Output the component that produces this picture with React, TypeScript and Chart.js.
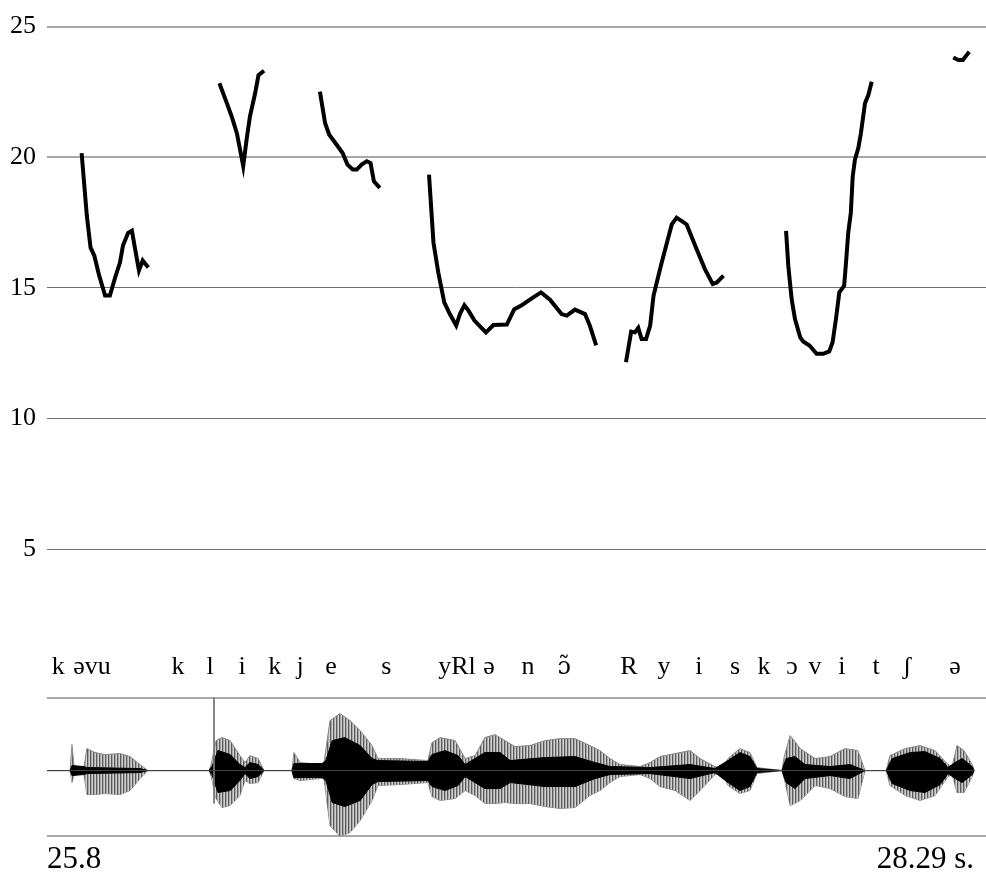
import React, { useEffect, useRef } from "react";
import { Chart, registerables } from "chart.js";

Chart.register(...registerables);

// ---------- DATA ----------
const TIME_START = 25.8;
const TIME_END = 28.29;
const TIME_VIEW_MAX = 28.322;
const timeTicks = [25.8, 28.29];
const timeTickLabels = ["25.8", "28.29 s."];

const pitchTicks = [5, 10, 15, 20, 25];

// pitch contour segments (time s, value)
const seg1Times = [25.893, 25.907, 25.917, 25.927, 25.94, 25.956, 25.969, 25.983, 25.996, 26.004, 26.018, 26.028, 26.036, 26.047, 26.057, 26.072];
const seg1Values = [20.16, 17.76, 16.54, 16.24, 15.48, 14.71, 14.71, 15.4, 15.97, 16.62, 17.11, 17.19, 16.54, 15.67, 16.05, 15.78];

const seg2Times = [26.263, 26.283, 26.296, 26.31, 26.327, 26.336, 26.345, 26.359, 26.368, 26.383];
const seg2Values = [22.83, 22.07, 21.56, 20.92, 19.66, 20.67, 21.56, 22.45, 23.14, 23.31];

const seg3Times = [26.533, 26.547, 26.558, 26.578, 26.594, 26.607, 26.621, 26.632, 26.645, 26.659, 26.669, 26.678, 26.694];
const seg3Values = [22.51, 21.3, 20.86, 20.48, 20.16, 19.72, 19.53, 19.53, 19.72, 19.85, 19.78, 19.08, 18.83];

const seg4Times = [26.826, 26.838, 26.851, 26.867, 26.882, 26.899, 26.909, 26.921, 26.932, 26.948, 26.963, 26.979, 26.999, 27.035, 27.055, 27.075, 27.106, 27.127, 27.151, 27.182, 27.196, 27.218, 27.245, 27.258, 27.275];
const seg4Values = [19.34, 16.73, 15.59, 14.45, 14.0, 13.56, 14.0, 14.34, 14.13, 13.75, 13.53, 13.3, 13.58, 13.6, 14.19, 14.34, 14.64, 14.83, 14.55, 14.0, 13.94, 14.17, 14.0, 13.56, 12.8];

const seg5Times = [27.355, 27.369, 27.379, 27.388, 27.397, 27.409, 27.42, 27.429, 27.44, 27.451, 27.465, 27.478, 27.491, 27.505, 27.518, 27.541, 27.567, 27.588, 27.599, 27.617];
const seg5Values = [12.16, 13.33, 13.3, 13.47, 13.05, 13.05, 13.56, 14.7, 15.34, 15.97, 16.73, 17.43, 17.69, 17.56, 17.43, 16.61, 15.72, 15.15, 15.21, 15.47];

const seg6Times = [27.785, 27.791, 27.8, 27.809, 27.823, 27.831, 27.848, 27.867, 27.885, 27.901, 27.91, 27.919, 27.928, 27.941, 27.946, 27.952, 27.959, 27.964, 27.97, 27.979, 27.986, 27.997, 28.006, 28.015];
const seg6Values = [17.18, 15.85, 14.57, 13.81, 13.11, 12.95, 12.8, 12.48, 12.48, 12.57, 12.92, 13.81, 14.83, 15.08, 15.97, 17.11, 17.88, 19.27, 19.91, 20.35, 20.92, 22.07, 22.38, 22.89];

const seg7Times = [28.234, 28.248, 28.26, 28.27, 28.277];
const seg7Values = [23.82, 23.72, 23.72, 23.91, 24.04];

// phonetic transcription
const phonemeLabels = ["k", "əvu", "k", "l", "i", "k", "j", "e", "s", "yRl", "ə", "n", "ɔ̃", "R", "y", "i", "s", "k", "ɔ", "v", "i", "t", "ʃ", "ə"];
const phonemeTimes = [25.83, 25.921, 26.152, 26.238, 26.324, 26.412, 26.48, 26.563, 26.711, 26.901, 26.987, 27.092, 27.189, 27.363, 27.457, 27.551, 27.648, 27.726, 27.801, 27.863, 27.935, 28.027, 28.11, 28.239];

// waveform envelope (amplitude, arbitrary units)
const waveMin = -66;
const waveMax = 73;
const waveOuterTimes = [25.8, 25.862, 25.867, 25.873, 25.899, 25.907, 25.929, 25.956, 25.996, 26.023, 26.05, 26.071, 26.235, 26.241, 26.254, 26.27, 26.292, 26.318, 26.332, 26.345, 26.367, 26.383, 26.458, 26.463, 26.48, 26.533, 26.544, 26.56, 26.587, 26.614, 26.641, 26.673, 26.689, 26.748, 26.823, 26.834, 26.856, 26.896, 26.923, 26.95, 26.976, 27.003, 27.03, 27.057, 27.097, 27.138, 27.178, 27.218, 27.258, 27.285, 27.312, 27.339, 27.393, 27.42, 27.446, 27.487, 27.527, 27.554, 27.594, 27.613, 27.629, 27.661, 27.688, 27.707, 27.774, 27.78, 27.796, 27.823, 27.863, 27.903, 27.943, 27.978, 27.997, 28.054, 28.064, 28.105, 28.145, 28.185, 28.22, 28.231, 28.244, 28.263, 28.285, 28.29];
const waveOuterUpper = [0, 0, 26, 3, 3, 22, 18, 16, 17, 14, 6, 0, 0, 6, 30, 33, 30, 15, 8, 15, 12, 0, 0, 18, 8, 6, 8, 50, 57, 50, 40, 25, 12, 12, 10, 28, 33, 30, 12, 15, 33, 36, 30, 24, 25, 30, 32, 32, 25, 20, 12, 6, 4, 8, 14, 17, 20, 12, 4, 2, 12, 22, 18, 3, 0, 14, 35, 22, 12, 14, 22, 20, 0, 0, 15, 22, 25, 20, 6, 4, 25, 20, 6, 0];
const waveOuterLower = [0, 0, -12, -4, -3, -24, -24, -23, -24, -20, -8, 0, 0, -6, -28, -37, -35, -25, -10, -13, -12, 0, 0, -8, -10, -8, -8, -55, -66, -62, -50, -30, -15, -14, -12, -26, -30, -28, -20, -25, -33, -33, -32, -33, -33, -36, -38, -37, -25, -20, -12, -6, -4, -8, -16, -20, -30, -20, -4, -2, -15, -23, -20, -3, 0, -8, -35, -30, -15, -18, -26, -28, 0, 0, -15, -25, -30, -25, -6, -4, -22, -22, -6, 0];

const waveCoreTimes = [25.8, 25.862, 25.867, 25.899, 25.907, 26.05, 26.071, 26.235, 26.243, 26.259, 26.292, 26.318, 26.332, 26.345, 26.367, 26.383, 26.458, 26.463, 26.539, 26.549, 26.566, 26.6, 26.641, 26.673, 26.689, 26.823, 26.834, 26.869, 26.904, 26.923, 26.976, 27.017, 27.044, 27.138, 27.218, 27.272, 27.312, 27.42, 27.527, 27.594, 27.629, 27.661, 27.688, 27.707, 27.774, 27.785, 27.809, 27.836, 27.903, 27.957, 27.997, 28.054, 28.07, 28.118, 28.158, 28.199, 28.22, 28.239, 28.258, 28.285, 28.29];
const waveCoreUpper = [0, 0, 5, 4, 3, 2, 0, 0, 4, 20, 16, 6, 3, 8, 6, 0, 0, 7, 7, 10, 30, 33, 25, 12, 10, 9, 16, 20, 15, 6, 18, 18, 10, 13, 14, 8, 4, 3, 6, 2, 10, 18, 14, 2, 0, 12, 14, 6, 4, 6, 0, 0, 12, 18, 19, 12, 3, 8, 12, 4, 0];
const waveCoreLower = [0, 0, -5, -4, -3, -2, 0, 0, -4, -22, -20, -10, -3, -8, -6, 0, 0, -7, -7, -10, -32, -36, -30, -14, -11, -10, -16, -20, -15, -6, -18, -18, -12, -16, -16, -8, -4, -3, -8, -2, -12, -20, -16, -2, 0, -12, -18, -8, -5, -8, 0, 0, -13, -20, -22, -14, -3, -8, -12, -4, 0];

const clickTime = 26.2486;
const clickRange = [73, -33];

// ---------- CHART ----------
const SERIF = '"Liberation Serif", "Times New Roman", "DejaVu Serif", serif';
const MARK_SERIF = '"DejaVu Serif", "Liberation Serif", serif';

function pts(times: number[], values: number[]) {
  return times.map((t, i) => ({ x: t, y: values[i] }));
}

function makePattern(): CanvasPattern | string {
  const c = document.createElement("canvas");
  c.width = 3;
  c.height = 1;
  const g = c.getContext("2d");
  if (!g) return "#999";
  g.fillStyle = "#5a5a5a";
  g.fillRect(0, 0, 1, 1);
  g.fillStyle = "#a8a8a8";
  g.fillRect(1, 0, 1, 1);
  g.fillStyle = "#cfcfcf";
  g.fillRect(2, 0, 1, 1);
  const p = g.createPattern(c, "repeat");
  return p || "#999";
}

const phonemePlugin = {
  id: "phonemes",
  afterDatasetsDraw(chart: any) {
    const xs = chart.scales.x;
    const ys = chart.scales.y;
    const ctx = chart.ctx;
    ctx.save();
    ctx.textAlign = "center";
    ctx.textBaseline = "alphabetic";
    ctx.fillStyle = "#000";
    phonemeLabels.forEach((p, i) => {
      const hasMark = /[\u0300-\u036f]/.test(p);
      ctx.font = hasMark ? `24px ${MARK_SERIF}` : `26px ${SERIF}`;
      ctx.fillText(p, xs.getPixelForValue(phonemeTimes[i]), ys.bottom - 24);
    });
    ctx.restore();
  },
};

export default function App() {
  const ref = useRef<HTMLCanvasElement | null>(null);

  useEffect(() => {
    if (!ref.current) return;
    const pattern = makePattern();
    const segs = [
      [seg1Times, seg1Values],
      [seg2Times, seg2Values],
      [seg3Times, seg3Values],
      [seg4Times, seg4Values],
      [seg5Times, seg5Values],
      [seg6Times, seg6Values],
      [seg7Times, seg7Values],
    ];
    const datasets: any[] = [];
    segs.forEach(([t, v]) => {
      datasets.push({
        data: pts(t, v),
        yAxisID: "y",
        borderColor: "#000",
        borderWidth: 4,
        pointRadius: 0,
        fill: false,
        tension: 0,
      });
    });
    // centre line
    datasets.push({
      data: [{ x: TIME_START, y: 0 }, { x: TIME_END, y: 0 }],
      yAxisID: "wave",
      borderColor: "#444",
      borderWidth: 1,
      pointRadius: 0,
      fill: false,
    });
    // click line
    datasets.push({
      data: [{ x: clickTime, y: clickRange[0] }, { x: clickTime, y: clickRange[1] }],
      yAxisID: "wave",
      borderColor: "#777",
      borderWidth: 1,
      pointRadius: 0,
      fill: false,
    });
    // core
    const coreIdx = datasets.length;
    datasets.push({
      data: pts(waveCoreTimes, waveCoreUpper),
      yAxisID: "wave",
      borderColor: "#000",
      borderWidth: 1,
      pointRadius: 0,
      backgroundColor: "#000",
      fill: coreIdx + 1,
    });
    datasets.push({
      data: pts(waveCoreTimes, waveCoreLower),
      yAxisID: "wave",
      borderColor: "#000",
      borderWidth: 1,
      pointRadius: 0,
      fill: false,
    });
    const outerIdx = datasets.length;
    datasets.push({
      data: pts(waveOuterTimes, waveOuterUpper),
      yAxisID: "wave",
      borderColor: "#8a8a8a",
      borderWidth: 1,
      pointRadius: 0,
      backgroundColor: pattern,
      fill: outerIdx + 1,
    });
    datasets.push({
      data: pts(waveOuterTimes, waveOuterLower),
      yAxisID: "wave",
      borderColor: "#8a8a8a",
      borderWidth: 1,
      pointRadius: 0,
      fill: false,
    });

    const chart = new Chart(ref.current, {
      type: "line",
      data: { datasets },
      plugins: [phonemePlugin],
      options: {
        animation: false,
        responsive: false,
        events: [],
        layout: { padding: { top: 23, left: 0, right: 0, bottom: 0 } },
        plugins: {
          legend: { display: false },
          tooltip: { enabled: false },
          title: { display: false },
        },
        scales: {
          x: {
            type: "linear",
            min: TIME_START,
            max: TIME_VIEW_MAX,
            grid: { display: false, drawTicks: false },
            border: { display: false },
            afterBuildTicks: (s: any) => {
              s.ticks = timeTicks.map((v) => ({ value: v }));
            },
            afterFit: (s: any) => {
              s.height = 37.5;
            },
            ticks: {
              autoSkip: false,
              maxRotation: 0,
              align: "inner",
              padding: 5,
              color: "#000",
              font: { family: SERIF, size: 31 },
              callback: (v: any) => {
                const i = timeTicks.indexOf(Number(v));
                return i >= 0 ? timeTickLabels[i] : "";
              },
            },
          } as any,
          wave: {
            type: "linear",
            position: "left",
            stack: "main",
            stackWeight: 139.5,
            weight: 0,
            min: waveMin,
            max: waveMax,
            afterBuildTicks: (s: any) => {
              s.ticks = [waveMin, waveMax].map((v) => ({ value: v }));
            },
            afterFit: (s: any) => {
              s.width = 47;
            },
            ticks: { display: false },
            grid: { color: "#a8a8a8", lineWidth: 2, drawTicks: false },
            border: { display: false },
          } as any,
          y: {
            type: "linear",
            position: "left",
            stack: "main",
            stackWeight: 674,
            weight: 1,
            min: -0.676,
            max: 25,
            afterBuildTicks: (s: any) => {
              s.ticks = pitchTicks.map((v) => ({ value: v }));
            },
            afterFit: (s: any) => {
              s.width = 47;
            },
            ticks: {
              padding: 11,
              color: "#000",
              font: { family: SERIF, size: 26 },
            },
            grid: {
              drawTicks: false,
              color: (c: any) => (c.tick && c.tick.value >= 20 ? "#a8a8a8" : "#707070"),
              lineWidth: (c: any) => (c.tick && c.tick.value >= 20 ? 2 : 1),
            },
            border: { display: false },
          } as any,
        },
      } as any,
    });
    return () => chart.destroy();
  }, []);

  return (
    <div style={{ position: "fixed", left: 0, top: 0, width: 986, height: 874, background: "#fff" }}>
      <canvas ref={ref} width={986} height={874} style={{ width: 986, height: 874, display: "block" }} />
    </div>
  );
}
